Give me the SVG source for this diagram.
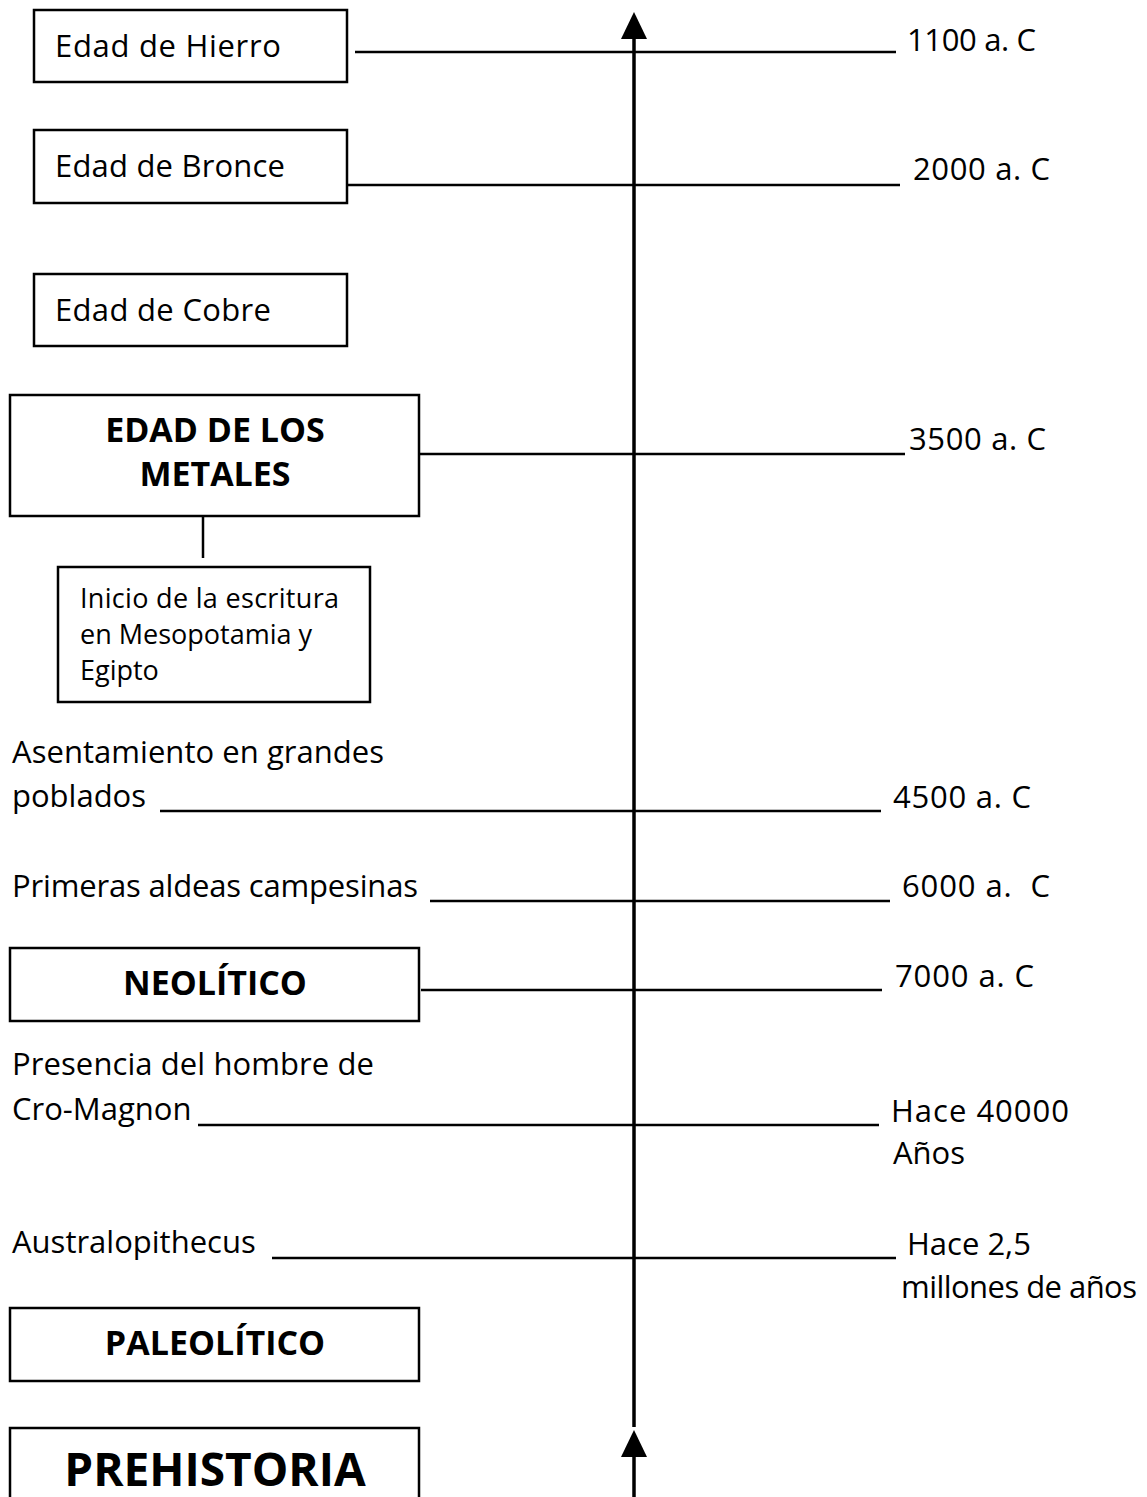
<svg xmlns="http://www.w3.org/2000/svg" width="1147" height="1497" viewBox="0 0 1147 1497">
<style>
.box{fill:#fff;stroke:#000;stroke-width:2.5}
.t{font-family:"Open Sans","DejaVu Sans",sans-serif;font-size:31px;fill:#000}
.d{font-family:"Open Sans","DejaVu Sans",sans-serif;font-size:31px;fill:#000;white-space:pre}
.s{font-family:"Open Sans","DejaVu Sans",sans-serif;font-size:27px;fill:#000}
.b{font-family:"Open Sans","DejaVu Sans",sans-serif;font-size:34px;font-weight:bold;fill:#000;text-anchor:middle}
.ln{stroke:#000;stroke-width:2.5;fill:none}
.ax{stroke:#000;stroke-width:3.5;fill:none}
</style>
<rect width="1147" height="1497" fill="#fff"/>
<g id="connectors">
  <line class="ax" x1="634" y1="36" x2="634" y2="1427"/>
  <polygon points="634,12 621,39 647,39" fill="#000"/>
  <polygon points="634,1430 621,1457 647,1457" fill="#000"/>
  <line class="ax" x1="634" y1="1455" x2="634" y2="1497"/>
  <line class="ln" x1="355" y1="52" x2="896" y2="52"/>
  <line class="ln" x1="348" y1="185" x2="900" y2="185"/>
  <line class="ln" x1="420" y1="454" x2="905" y2="454"/>
  <line class="ln" x1="203" y1="516" x2="203" y2="558"/>
  <line class="ln" x1="160" y1="811" x2="881" y2="811"/>
  <line class="ln" x1="430" y1="901" x2="890" y2="901"/>
  <line class="ln" x1="421" y1="990" x2="882" y2="990"/>
  <line class="ln" x1="198" y1="1125" x2="879" y2="1125"/>
  <line class="ln" x1="272" y1="1258" x2="896" y2="1258"/>
</g>
<g id="hierro">
  <rect class="box" x="34" y="10" width="313" height="72"/>
  <text class="t" x="55" y="57" textLength="226">Edad de Hierro</text>
</g>
<g id="bronce">
  <rect class="box" x="34" y="130" width="313" height="73"/>
  <text class="t" x="55" y="177" textLength="230">Edad de Bronce</text>
</g>
<g id="cobre">
  <rect class="box" x="34" y="274" width="313" height="72"/>
  <text class="t" x="55" y="321" textLength="216">Edad de Cobre</text>
</g>
<g id="metales">
  <rect class="box" x="10" y="395" width="409" height="121"/>
  <text class="b" x="215" y="442">EDAD DE LOS</text>
  <text class="b" x="215" y="486">METALES</text>
</g>
<g id="escritura">
  <rect class="box" x="58" y="567" width="312" height="135"/>
  <text class="s" x="80" y="608" textLength="259">Inicio de la escritura</text>
  <text class="s" x="80" y="644">en Mesopotamia y</text>
  <text class="s" x="80" y="680">Egipto</text>
</g>
<g id="poblados">
  <text class="t" x="12" y="763" textLength="372">Asentamiento en grandes</text>
  <text class="t" x="12" y="807">poblados</text>
</g>
<g id="aldeas">
  <text class="t" x="12" y="897" textLength="406">Primeras aldeas campesinas</text>
</g>
<g id="neolitico">
  <rect class="box" x="10" y="948" width="409" height="73"/>
  <text class="b" x="215" y="995">NEOLÍTICO</text>
</g>
<g id="cromagnon">
  <text class="t" x="12" y="1075" textLength="362">Presencia del hombre de</text>
  <text class="t" x="12" y="1120">Cro-Magnon</text>
</g>
<g id="australopithecus">
  <text class="t" x="12" y="1253">Australopithecus</text>
</g>
<g id="paleolitico">
  <rect class="box" x="10" y="1308" width="409" height="73"/>
  <text class="b" x="215" y="1355">PALEOLÍTICO</text>
</g>
<g id="prehistoria">
  <rect class="box" x="10" y="1428" width="409" height="80"/>
  <text class="b" x="215" y="1486" style="font-size:46px">PREHISTORIA</text>
</g>
<g id="dates">
  <text class="d" x="907" y="51" textLength="129">1100 a. C</text>
  <text class="d" x="913" y="180" textLength="137">2000 a. C</text>
  <text class="d" x="909" y="450" textLength="137">3500 a. C</text>
  <text class="d" x="893" y="808" textLength="138">4500 a. C</text>
  <text class="d" x="902" y="897" textLength="148">6000 a.  C</text>
  <text class="d" x="895" y="987" textLength="139">7000 a. C</text>
  <text class="d" x="891" y="1122" textLength="178">Hace 40000</text>
  <text class="d" x="893" y="1164">Años</text>
  <text class="d" x="907" y="1255">Hace 2,5</text>
  <text class="d" x="901" y="1298" textLength="236">millones de años</text>
</g>
</svg>
